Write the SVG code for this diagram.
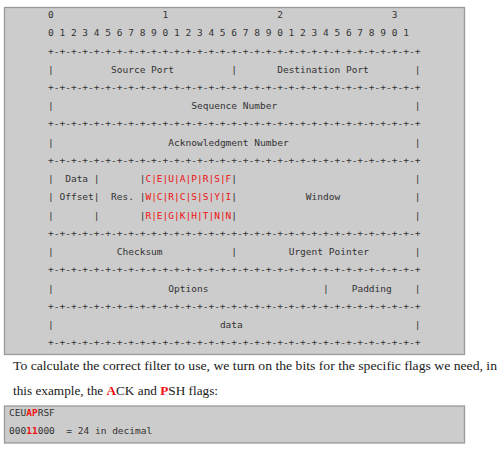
<svg xmlns="http://www.w3.org/2000/svg" width="500" height="450" viewBox="0 0 500 450">
<style>
.box{fill:#cccccc;stroke:#999999;stroke-width:1.3}
.m{font-family:"DejaVu Sans Mono","Liberation Mono",monospace;font-size:9.52px;fill:#333333;white-space:pre}
.r{fill:#ee1111}
.rb{fill:#ee1111;font-weight:bold}
.s{font-family:"Liberation Serif","Times New Roman",serif;font-size:12.6px;fill:#1a1a1a}
</style>
<rect width="500" height="450" fill="#ffffff"/>
<g id="header-box">
<rect class="box" x="4.5" y="7.5" width="460" height="347"/>
<g id="bit-scale">
<text class="m" x="48" y="18">0</text>
<text class="m" x="162.6" y="18">1</text>
<text class="m" x="277.2" y="18">2</text>
<text class="m" x="391.8" y="18">3</text>
<text class="m" x="48" y="36.2">0 1 2 3 4 5 6 7 8 9 0 1 2 3 4 5 6 7 8 9 0 1 2 3 4 5 6 7 8 9 0 1</text>
</g>
<g id="separators">
<text class="m" x="48" y="54.5">+-+-+-+-+-+-+-+-+-+-+-+-+-+-+-+-+-+-+-+-+-+-+-+-+-+-+-+-+-+-+-+-+</text>
<text class="m" x="48" y="91">+-+-+-+-+-+-+-+-+-+-+-+-+-+-+-+-+-+-+-+-+-+-+-+-+-+-+-+-+-+-+-+-+</text>
<text class="m" x="48" y="127.4">+-+-+-+-+-+-+-+-+-+-+-+-+-+-+-+-+-+-+-+-+-+-+-+-+-+-+-+-+-+-+-+-+</text>
<text class="m" x="48" y="163.9">+-+-+-+-+-+-+-+-+-+-+-+-+-+-+-+-+-+-+-+-+-+-+-+-+-+-+-+-+-+-+-+-+</text>
<text class="m" x="48" y="236.9">+-+-+-+-+-+-+-+-+-+-+-+-+-+-+-+-+-+-+-+-+-+-+-+-+-+-+-+-+-+-+-+-+</text>
<text class="m" x="48" y="273.4">+-+-+-+-+-+-+-+-+-+-+-+-+-+-+-+-+-+-+-+-+-+-+-+-+-+-+-+-+-+-+-+-+</text>
<text class="m" x="48" y="309.8">+-+-+-+-+-+-+-+-+-+-+-+-+-+-+-+-+-+-+-+-+-+-+-+-+-+-+-+-+-+-+-+-+</text>
<text class="m" x="48" y="346.3">+-+-+-+-+-+-+-+-+-+-+-+-+-+-+-+-+-+-+-+-+-+-+-+-+-+-+-+-+-+-+-+-+</text>
</g>
<g id="ports">
<text class="m" x="48" y="72.7">|</text>
<text class="m" x="111.03" y="72.7">Source Port</text>
<text class="m" x="231.36" y="72.7">|</text>
<text class="m" x="277.2" y="72.7">Destination Port</text>
<text class="m" x="414.72" y="72.7">|</text>
</g>
<g id="sequence">
<text class="m" x="48" y="109.2">|</text>
<text class="m" x="191.25" y="109.2">Sequence Number</text>
<text class="m" x="414.72" y="109.2">|</text>
</g>
<g id="ack">
<text class="m" x="48" y="145.7">|</text>
<text class="m" x="168.33" y="145.7">Acknowledgment Number</text>
<text class="m" x="414.72" y="145.7">|</text>
</g>
<g id="flags-row">
<text class="m" x="48" y="182.2">|</text>
<text class="m" x="65.19" y="182.2">Data</text>
<text class="m" x="93.84" y="182.2">|</text>
<text class="m" x="139.68" y="182.2">|<tspan class="r">C|E|U|A|P|R|S|F</tspan>|</text>
<text class="m" x="414.72" y="182.2">|</text>
<text class="m" x="48" y="200.4">|</text>
<text class="m" x="59.46" y="200.4">Offset|</text>
<text class="m" x="111.03" y="200.4">Res.</text>
<text class="m" x="139.68" y="200.4">|<tspan class="r">W|C|R|C|S|S|Y|I</tspan>|</text>
<text class="m" x="305.85" y="200.4">Window</text>
<text class="m" x="414.72" y="200.4">|</text>
<text class="m" x="48" y="218.6">|</text>
<text class="m" x="93.84" y="218.6">|</text>
<text class="m" x="139.68" y="218.6">|<tspan class="r">R|E|G|K|H|T|N|N</tspan>|</text>
<text class="m" x="414.72" y="218.6">|</text>
</g>
<g id="checksum">
<text class="m" x="48" y="255.1">|</text>
<text class="m" x="116.76" y="255.1">Checksum</text>
<text class="m" x="231.36" y="255.1">|</text>
<text class="m" x="288.66" y="255.1">Urgent Pointer</text>
<text class="m" x="414.72" y="255.1">|</text>
</g>
<g id="options">
<text class="m" x="48" y="291.6">|</text>
<text class="m" x="168.33" y="291.6">Options</text>
<text class="m" x="323.04" y="291.6">|</text>
<text class="m" x="351.69" y="291.6">Padding</text>
<text class="m" x="414.72" y="291.6">|</text>
</g>
<g id="data">
<text class="m" x="48" y="328.1">|</text>
<text class="m" x="219.9" y="328.1">data</text>
<text class="m" x="414.72" y="328.1">|</text>
</g>
</g>
<g id="caption">
<text class="s" x="13" y="370" textLength="484" lengthAdjust="spacingAndGlyphs">To calculate the correct filter to use, we turn on the bits for the specific flags we need, in</text>
<text class="s" x="13" y="395" textLength="205" lengthAdjust="spacingAndGlyphs">this example, the <tspan class="rb">A</tspan>CK and <tspan class="rb">P</tspan>SH flags:</text>
</g>
<g id="filter-box">
<rect class="box" x="4.5" y="406" width="460" height="37"/>
<text class="m" x="9" y="415.5">CEU<tspan class="rb">AP</tspan>RSF</text>
<text class="m" x="9" y="433.5">000<tspan class="rb">11</tspan>000  = 24 in decimal</text>
</g>
</svg>
